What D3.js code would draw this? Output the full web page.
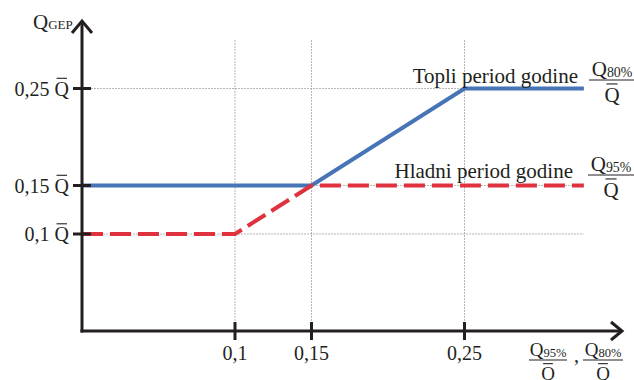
<!DOCTYPE html>
<meta charset="utf-8">

<body>
  <div id="grafik">
    <svg></svg>
  </div>
</body>

<style>
body { margin: 0; background: #fff; }
svg { display: block; }
.grid line { stroke: #9a9a9a; stroke-width: 0.7; stroke-dasharray: 2,1; }
.os { stroke: #231f20; stroke-width: 3; fill: none; }
</style>

<script src="https://d3js.org/d3.v7.min.js"></script>
<script>

// podaci
var xTicks = [0.1, 0.15, 0.25];
var xTickLabels = ["0,1", "0,15", "0,25"];
var yTicks = [0.1, 0.15, 0.25];
var yTickLabels = ["0,1", "0,15", "0,25"];

var topliX = [0, 0.15, 0.25, 0.328];
var topliY = [0.15, 0.15, 0.25, 0.25];
var hladniX = [0, 0.1, 0.15, 0.328];
var hladniY = [0.1, 0.1, 0.15, 0.15];

var svg = d3.select("#grafik").select("svg")
    .attr("width", 634)
    .attr("height", 380)
    .attr("font-family", "'Liberation Serif', 'DejaVu Serif', serif")
    .attr("fill", "#231f20");

var x = d3.scaleLinear().domain([0, 0.35]).range([82, 617.5]);
var y = d3.scaleLinear().domain([0, 0.3]).range([331, 40]);

// mreza
var grid = svg.append("g").attr("class", "grid");

grid.selectAll("line.v")
    .data(xTicks)
    .enter()
    .append("line")
      .attr("class", "v")
      .attr("x1", d => x(d)).attr("x2", d => x(d))
      .attr("y1", y(0.3)).attr("y2", y(0));

grid.selectAll("line.h")
    .data(yTicks)
    .enter()
    .append("line")
      .attr("class", "h")
      .attr("x1", x(0)).attr("x2", x(0.328))
      .attr("y1", d => y(d)).attr("y2", d => y(d));

// linije
var line = d3.line()
    .x(d => x(d[0]))
    .y(d => y(d[1]));

svg.append("path")
    .datum(d3.zip(topliX, topliY))
    .attr("d", line)
    .attr("fill", "none")
    .attr("stroke", "#4674b6")
    .attr("stroke-width", 4);

svg.append("path")
    .datum(d3.zip(hladniX, hladniY))
    .attr("d", line)
    .attr("fill", "none")
    .attr("stroke", "#e0313f")
    .attr("stroke-width", 4)
    .attr("stroke-dasharray", "21,7");

// ose sa strelicama
var x0 = x(0), y0 = y(0);

svg.append("line").attr("class", "os")
    .attr("x1", x0).attr("y1", y0 + 1.5).attr("x2", x0).attr("y2", 21);
svg.append("polyline").attr("class", "os")
    .attr("points", [[x0 - 10, 33], [x0, 21], [x0 + 10, 33]].join(" "));

svg.append("line").attr("class", "os")
    .attr("x1", x0 - 1.5).attr("y1", y0).attr("x2", 622).attr("y2", y0);
svg.append("polyline").attr("class", "os")
    .attr("points", [[611, y0 - 9], [622, y0], [611, y0 + 9]].join(" "));

// podioci na osama
svg.selectAll("line.xt")
    .data(xTicks)
    .enter()
    .append("line")
      .attr("class", "os xt")
      .attr("x1", d => x(d)).attr("x2", d => x(d))
      .attr("y1", y0 - 9).attr("y2", y0 + 9);

svg.selectAll("line.yt")
    .data(yTicks)
    .enter()
    .append("line")
      .attr("class", "os yt")
      .attr("x1", x0 - 9).attr("x2", x0 + 9)
      .attr("y1", d => y(d)).attr("y2", d => y(d));

svg.selectAll("text.xl")
    .data(xTicks)
    .enter()
    .append("text")
      .attr("class", "xl")
      .attr("x", d => x(d))
      .attr("y", 360)
      .attr("text-anchor", "middle")
      .attr("font-size", 20)
      .text((d, i) => xTickLabels[i]);

// Q sa crtom iznad
function qBar(g, xx, base, anchor, size) {
  var t = g.append("text")
      .attr("x", xx)
      .attr("y", base)
      .attr("text-anchor", anchor)
      .attr("font-size", size)
      .text("Q");
  var w = t.node().getComputedTextLength();
  var left = anchor == "end" ? xx - w : (anchor == "middle" ? xx - w / 2 : xx);
  g.append("line")
      .attr("x1", left + 2).attr("x2", left + w - 2)
      .attr("y1", base - size * 0.86).attr("y2", base - size * 0.86)
      .attr("stroke", "#231f20")
      .attr("stroke-width", 1.1);
  return w;
}

yTicks.forEach(function(v, i) {
  var g = svg.append("g");
  var base = y(v) + 7;
  var w = qBar(g, 69, base, "end", 20);
  g.append("text")
      .attr("x", 69 - w - 5)
      .attr("y", base)
      .attr("text-anchor", "end")
      .attr("font-size", 20)
      .text(yTickLabels[i]);
});

// naziv y ose
var yl = svg.append("text").attr("x", 33).attr("y", 29).attr("font-size", 21);
yl.append("tspan").text("Q");
yl.append("tspan").attr("font-size", 13).text("GEP");

// razlomak Q_sub / Q
function razlomak(cx, lineY, sub, half, size) {
  var g = svg.append("g");
  var t = g.append("text")
      .attr("x", cx)
      .attr("y", lineY - 4)
      .attr("text-anchor", "middle")
      .attr("font-size", size);
  t.append("tspan").text("Q");
  t.append("tspan").attr("font-size", size * 0.66).attr("dy", 1).text(sub);
  g.append("line")
      .attr("x1", cx - half).attr("x2", cx + half)
      .attr("y1", lineY).attr("y2", lineY)
      .attr("stroke", "#231f20")
      .attr("stroke-width", 1);
  qBar(g, cx, lineY + size + 1, "middle", size);
}

// natpisi uz linije
svg.append("text")
    .attr("x", 578).attr("y", 83)
    .attr("text-anchor", "end")
    .attr("font-size", 21)
    .text("Topli period godine");
razlomak(612, 80, "80%", 23, 21);

svg.append("text")
    .attr("x", 573).attr("y", 178)
    .attr("text-anchor", "end")
    .attr("font-size", 21)
    .text("Hladni period godine");
razlomak(611, 175, "95%", 23, 21);

// naziv x ose
razlomak(548, 360, "95%", 19, 19);
svg.append("text").attr("x", 574).attr("y", 362).attr("font-size", 20).text(",");
razlomak(603, 360, "80%", 20, 19);

</script>
